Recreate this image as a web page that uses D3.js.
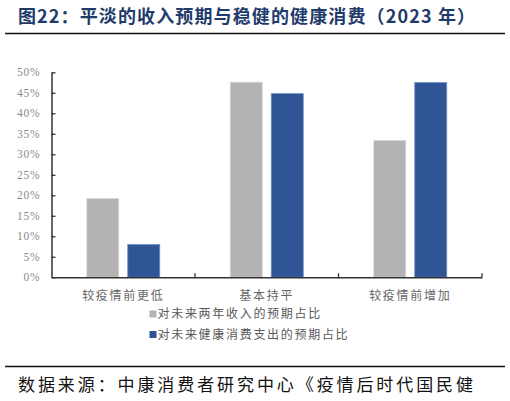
<!DOCTYPE html>
<html><head><meta charset="utf-8">
<script src="https://cdn.jsdelivr.net/npm/d3@7/dist/d3.min.js"></script>
<style>body{margin:0;background:#fff;}svg{display:block;}</style>
</head><body><svg id="c" width="510" height="401"></svg>
<script>
const categories = ["较疫情前更低", "基本持平", "较疫情前增加"];
const seriesNames = ["对未来两年收入的预期占比", "对未来健康消费支出的预期占比"];
const incomeValues = [0.192, 0.476, 0.334];
const healthValues = [0.080, 0.448, 0.475];
const yTicks = [0, 0.05, 0.10, 0.15, 0.20, 0.25, 0.30, 0.35, 0.40, 0.45, 0.50];
const colors = ["#b3b3b3", "#2f5597"];
const titleText = "图22：平淡的收入预期与稳健的健康消费（2023 年）";
const sourceText = "数据来源：中康消费者研究中心《疫情后时代国民健";

(function () {
const svg = d3.select("#c");
const serif = "'Liberation Serif','DejaVu Serif',serif";
const cjk = "'Noto Sans CJK SC','Noto Sans CJK JP',sans-serif";

// title
svg.append("text").attr("x", 18).attr("y", 22.5)
  .attr("font-family", cjk).attr("font-weight", "bold").attr("font-size", 18)
  .attr("fill", "#1f3b6b").attr("textLength", 457).attr("lengthAdjust", "spacing")
  .text(titleText);
svg.append("line").attr("x1", 5).attr("x2", 505).attr("y1", 33.5).attr("y2", 33.5)
  .attr("stroke", "#111").attr("stroke-width", 1.6);

const pLeft = 51.5, pRight = 482, pTop = 72.3, pBottom = 277.3;
const y = d3.scaleLinear().domain([0, 0.5]).range([pBottom, pTop]);
const x0 = d3.scaleBand().domain(categories).range([pLeft, pRight]).padding(0);
const groupW = 73;
const x1 = d3.scaleBand().domain(seriesNames).range([0, groupW]).paddingInner(9 / 41).paddingOuter(0);

const data = categories.map((c, i) => ({cat: c, vals: [incomeValues[i], healthValues[i]]}));

// bars
const g = svg.append("g");
data.forEach(d => {
  d.vals.forEach((v, j) => {
    const bx = x0(d.cat) + (x0.bandwidth() - groupW) / 2 + x1(seriesNames[j]);
    g.append("rect").attr("x", bx).attr("y", y(v)).attr("width", x1.bandwidth())
      .attr("height", y(0) - y(v)).attr("fill", colors[j])
      .attr("stroke", j === 0 ? "#d9d9d9" : "#6f8fc4").attr("stroke-width", 0.8);
  });
});

// y axis
const yAxis = svg.append("g").attr("transform", `translate(${pLeft},0)`)
  .call(d3.axisLeft(y).tickValues(yTicks).tickSizeInner(-4).tickSizeOuter(0).tickPadding(11)
    .tickFormat(d => Math.round(d * 100) + "%"));
yAxis.select(".domain").attr("stroke", "#333").attr("stroke-width", 1.5);
yAxis.selectAll(".tick line").attr("stroke", "#333").attr("stroke-width", 1.3);
yAxis.selectAll(".tick text").attr("font-family", serif).attr("font-size", 11.5)
  .attr("fill", "#8a8a8a").attr("letter-spacing", 0.8);

// x axis
const xAxis = svg.append("g").attr("transform", `translate(0,${pBottom})`)
  .call(d3.axisBottom(x0).tickSize(0).tickPadding(14));
xAxis.select(".domain").attr("stroke", "#333").attr("stroke-width", 1.5);
xAxis.selectAll(".tick text").attr("font-family", cjk).attr("font-size", 12)
  .attr("fill", "#666").attr("letter-spacing", 1.7);
const bounds = categories.slice(1).map(c => x0(c)).concat([pRight]);
xAxis.selectAll(".btick").data(bounds).enter().append("line")
  .attr("x1", d => d).attr("x2", d => d).attr("y1", 0).attr("y2", -4)
  .attr("stroke", "#333").attr("stroke-width", 1.3);

// legend
const leg = svg.append("g");
seriesNames.forEach((s, i) => {
  const ly = 314 + i * 20.5;
  leg.append("rect").attr("x", 149.5).attr("y", ly - 3.5).attr("width", 7).attr("height", 7).attr("fill", colors[i]);
  leg.append("text").attr("x", 157.5).attr("y", ly + 4.3).attr("font-family", cjk).attr("font-size", 12)
    .attr("fill", "#595959").attr("letter-spacing", 1.7).text(s);
});

// source
svg.append("line").attr("x1", 5).attr("x2", 505).attr("y1", 366.5).attr("y2", 366.5)
  .attr("stroke", "#111").attr("stroke-width", 1.6);
svg.append("text").attr("x", 18).attr("y", 391).attr("font-family", cjk).attr("font-size", 17)
  .attr("fill", "#111").attr("textLength", 455).attr("lengthAdjust", "spacing")
  .text(sourceText);
})();
</script></body></html>
